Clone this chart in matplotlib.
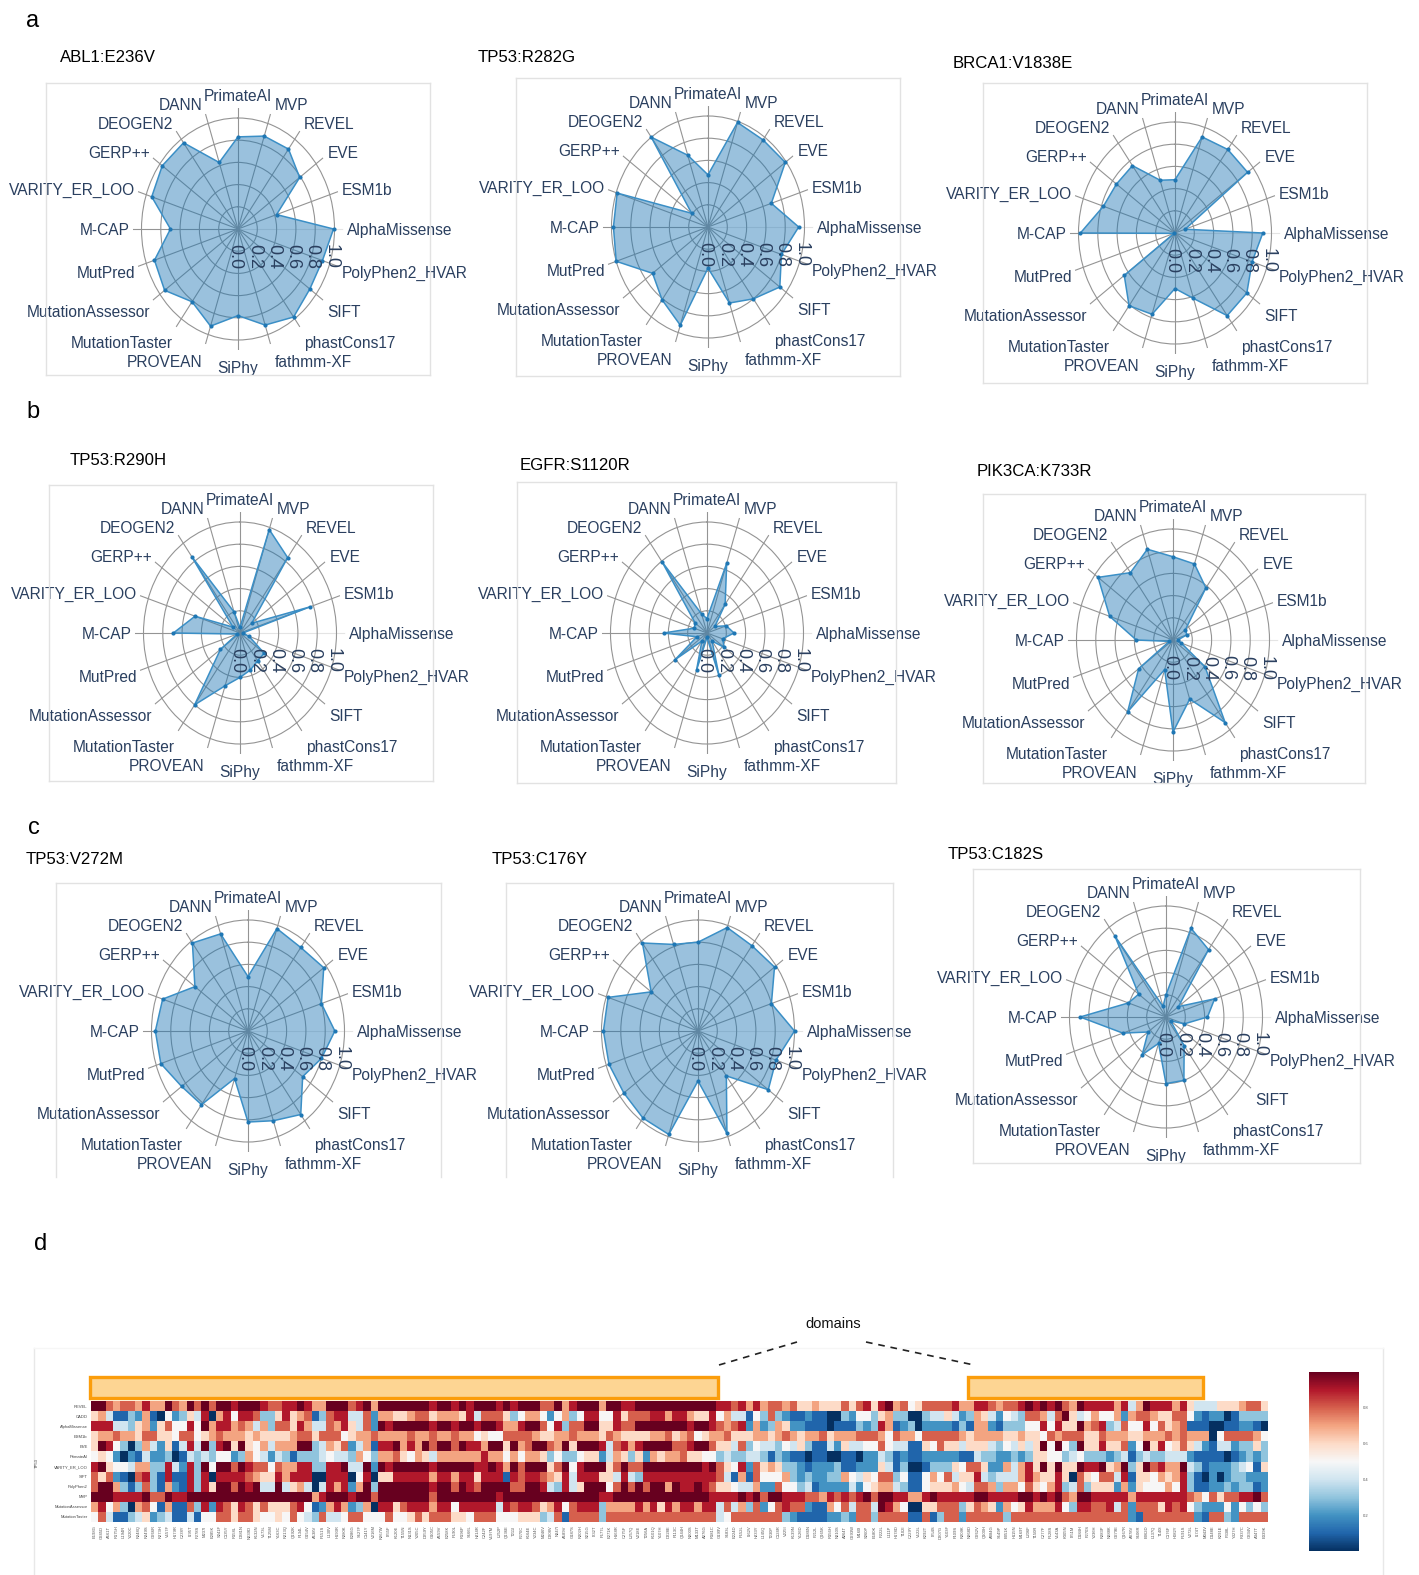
import numpy as np
import matplotlib
matplotlib.use("Agg")
import matplotlib.pyplot as plt
from matplotlib.lines import Line2D
from matplotlib.patches import Rectangle

W, H = 1419, 1575
FONT = "Liberation Sans"
INK = "#2a3f5f"
plt.rcParams["font.family"] = FONT

# ---- radar data (clockwise from the top) ----
tools = ["PrimateAI", "MVP", "REVEL", "EVE", "ESM1b", "AlphaMissense", "PolyPhen2_HVAR",
         "SIFT", "phastCons17", "fathmm-XF", "SiPhy", "PROVEAN", "MutationTaster",
         "MutationAssessor", "MutPred", "M-CAP", "VARITY_ER_LOO", "GERP++", "DEOGEN2", "DANN"]
abl1_e236v = [.83, .88, .89, .79, .42, .99, .92, .92, .98, .91, .78, .92, .81, .94, .91, .70, .94, .97, .96, .63]
tp53_r282g = [.47, .99, .97, .99, .69, .94, .80, .92, .80, .72, .37, .93, .81, .71, 1.0, .98, .99, .21, 1.0, .68]
brca1_v1838e = [.48, .91, .93, .93, .11, .91, .84, .92, .92, .62, .50, .77, .81, .65, .01, .98, .78, .75, .75, .50]
tp53_r290h = [.05, .98, .84, .15, .76, .03, .10, .31, .31, .35, .40, .50, .80, .25, .03, .69, .49, .09, .85, .20]
egfr_s1120r = [.13, .66, .32, .10, .21, .28, .17, .22, .09, .40, .04, .35, .09, .41, .11, .45, .14, .15, .79, .18]
pik3ca_k733r = [.75, .72, .58, .16, .15, .05, .09, .41, .92, .56, .83, .28, .80, .44, .04, .38, .69, .96, .75, .86]
tp53_v272m = [.49, .97, .93, .97, .80, .90, .80, .70, .93, .85, .82, .45, .82, .85, .95, .96, .93, .68, .98, .92]
tp53_c176y = [.80, .98, .95, .98, .80, 1.0, .85, .90, .50, .97, .45, .98, .97, .95, .97, .98, .98, .60, .98, .82]
tp53_c182s = [.20, .84, .75, .16, .53, .43, .20, .06, .32, .60, .60, .25, .42, .23, .47, .89, .41, .35, .90, .10]
radial_ticks = [0.0, 0.2, 0.4, 0.6, 0.8, 1.0]

# name, values, centre x/y, frame l/t/r/b, title x/y, bottom side drawn
panels = [
    ("ABL1:E236V", abl1_e236v, 238, 229, 46, 83, 430, 375, 60, 57, True),
    ("TP53:R282G", tp53_r282g, 708, 227, 516, 78, 900, 376, 478, 57, True),
    ("BRCA1:V1838E", brca1_v1838e, 1175, 233, 983, 83, 1367, 383, 953, 63, True),
    ("TP53:R290H", tp53_r290h, 240, 633, 49, 485, 433, 781, 70, 460, True),
    ("EGFR:S1120R", egfr_s1120r, 707, 633, 517, 482, 896, 783, 520, 465, True),
    ("PIK3CA:K733R", pik3ca_k733r, 1173, 640, 983, 494, 1365, 783, 977, 471, True),
    ("TP53:V272M", tp53_v272m, 248, 1031, 56, 883, 441, 1177, 26, 860, False),
    ("TP53:C176Y", tp53_c176y, 698, 1031, 506, 883, 893, 1177, 492, 860, False),
    ("TP53:C182S", tp53_c182s, 1166, 1017, 973, 869, 1360, 1163, 948, 855, True),
]
panel_letters = [("a", 33, 21), ("b", 33, 412), ("c", 34, 828), ("d", 41, 1244)]

# ---- heatmap data: one character per cell, 0-9,a = 0.0-1.0 on the colour bar ----
heat_REVEL = ("aa87887977a87a8a8aa9aaa98899a977aaa89a7a" "aaaaaa9aa9a9aaa9a9aaa88a79aaa7aa99aaaaaa"
              "aaaaa99897978878667666868969a78568888977" "9987889a9a9a87a99997947a9997964446667886")
heat_CADD = ("6741132710523649079599833696781389944827" "7667886777694888635775257359955968889979"
             "9766957441538321121100325536733003446423" "764254388748a64575572788766885" "2122013333")
heat_AlphaMissense = ("9994436726" "85595a7997" "8747388697" "448796482a" "9aaaaa9aa9aa9aa9779aa859388aa66988aaaaaa"
                      "a9aa987892" "7237622111" "0111323971" "2302222131"
                      "7721333559" "5966a78934" "8559586781" "1100112210")
heat_ESM1b = ("6778776886" "6588567877" "7676666788" "6888567787" "7778778778" "7756558888" "7667787776" "8766667786"
              "7856778666" "7767876778" "6777888758" "7758888876" "7777667665" "8788866877" "7667778787" "7705888875")
heat_EVE = ("6a95303742" "61494a39a6" "a6574777aa" "3476824719" "9a797a8aa8" "a997aa6a78" "aa87a6aaa9" "48979aaaa8"
            "89aa866483" "5443546311" "4264455854" "4116586646" "664354646a" "5a53a66966" "825a695686" "4214423363")
heat_PrimateAI = ("5652021422" "3014343552" "3754243133" "3454437537" "7865764777" "7779775757" "7635335662" "4763627677"
                  "8665534334" "4313211011" "0011022431" "2112222211" "4332232366" "5534533323" "4134334442" "1111012323")
heat_VARITY = ("9a65547733" "94293a5aa8" "a988587799" "3399a44a2a" "9aaaaa9aaa" "aa99a97a8a" "aa68a59aaa" "68a88aaaaa"
               "aaa9a86592" "8676332122" "2311222641" "3001333658" "862274796a" "6a66a99a67" "a36a8977a4" "3122234516")
heat_SIFT = ("8682108931" "9119390999" "9876697999" "0099905906" "6999997997" "9969991989" "9876949996" "6494399999"
             "9999984171" "8555732322" "3375465883" "5115758466" "9434447976" "6960865884" "9166576793" "1020233222")
heat_PolyPhen2 = ("8aa7313831" "7219396aa8" "a9a44a4674" "0497927a3a" "aaaaaa9aa8" "a98aaaa88a" "a943946aaa" "58a8a8aa7a"
                  "99a9866544" "7228553412" "2224256774" "3115666754" "8873775865" "7934836662" "7265557593" "1122323312")
heat_MVP = ("aaa9999a88" "a99aaaaaaa" "aaaaaaaaaa" "79aaa9aa8a" "aaaaaa8aaa" "aaaaa9aaaa" "aaaaaaaaa9" "9aaaaaaaaa"
            "aaaa9999a9" "a8aa999887" "98989a8aa9" "9779a99999" "aa9999aa9a" "9a87aa9999" "9799999998" "75868899a8")
heat_MutationAssessor = ("7957307851" "7118392986" "9868666895" "1279723709" "9689997995" "9999949899" "8679589993" "7777979697"
                         "9979948473" "8258988211" "7584884a97" "5006688836" "8762756977" "7953998894" "8288869895" "3222525353")
heat_MutationTaster = ("5841134623" "4114155886" "8865565854" "3844588555" "8556868886" "6588855566" "6348188883" "8888888888"
                       "8888845888" "8888321111" "2232883888" "8118138828" "8888388888" "8888888888" "8218888888" "2188328888")
heat_row_labels = ["REVEL", "CADD", "AlphaMissense", "ESM1b", "EVE", "PrimateAI", "VARITY_ER_LOO",
                   "SIFT", "PolyPhen2", "MVP", "MutationAssessor", "MutationTaster"]
heat_rows = [heat_REVEL, heat_CADD, heat_AlphaMissense, heat_ESM1b, heat_EVE, heat_PrimateAI, heat_VARITY,
             heat_SIFT, heat_PolyPhen2, heat_MVP, heat_MutationAssessor, heat_MutationTaster]
# variant labels are illegible in the reference: these are look-alike placeholders
heat_col_labels = """E198G G245D A161T R175H L194R Y220C R248Q R249S G266R R273H V157F H179R C238Y I195T P278S M237I
E285K S241F C135Y R158L D281N N239D K132N V173L T125M Y163C R213Q Q192K F134L G154V A138V P151S
L130V H193R R280K E286G S127F C141Y V216M R267W I255F K120E T155N N131S Y205C D259Y G105C A159V
E258K P190L R196P S166L H214R C242F V197M L252P Q136E T211I F270C K164E Y234C M246V D208V N247I
A189V G187S R202H S215G I232T P177L E271K H168R C275F L257Q V218E T256A K101Q Y107H D228E F113C
Q144H N200S M133T A276G R181C G199V S183L E224D P152L I162V H233Y L145Q T230P C124R V225I K139N
Y126D D186N F212L Q165K R156H N210S A264T G293W M160I S260P E180K P222L L111P H178D T102I C229Y
V122L K292T I254S D207G Y103F F109S R209K N268D G262V Q100H A084G S149P E051K H115N M169T L206F
T150R C277F P128S V143A K305N I251M D184H F270S Y236H R283P N288K G279E Q167R A078V S106R E062D
L137Q T140I C176F H082Y P191S V272L I174T M043V D148E K291E F338L Y327H R337C G334V A347T E339K""".split()
heat_ticks = [0.2, 0.4, 0.6, 0.8]

fig = plt.figure(figsize=(W / 100, H / 100), dpi=100, facecolor="white")


def fx(x):
    return x / W


def fy(y):
    return 1 - y / H


def seg(x0, y0, x1, y1, **kw):
    fig.add_artist(Line2D([fx(x0), fx(x1)], [fy(y0), fy(y1)], transform=fig.transFigure, **kw))


RX, RY, REACH = 96.5, 111.0, 1.09
angles = np.deg2rad(np.arange(len(tools)) * 18.0)

for name, vals, cx, cy, l, t, r, b, tx, ty, has_bottom in panels:
    frame = dict(color="#e2e2e2", lw=1.0)
    seg(l, t, r, t, **frame)
    seg(l, t, l, b, **frame)
    seg(r, t, r, b, **frame)
    if has_bottom:
        seg(l, b, r, b, **frame)
    fig.text(fx(tx), fy(ty), name, fontsize=12.1, color="black", va="center", ha="left")

    ax = fig.add_axes([fx(cx - RX * REACH), fy(cy + RY * REACH), 2 * RX * REACH / W, 2 * RY * REACH / H],
                      projection="polar")
    ax.set_aspect("auto")
    ax.set_theta_zero_location("N")
    ax.set_theta_direction(-1)
    ax.set_ylim(0, REACH)
    ax.patch.set_alpha(0)
    ax.spines["polar"].set_visible(False)
    ax.set_axisbelow(True)
    ax.set_xticks(angles)
    ax.set_xticklabels([])
    ax.set_yticks(radial_ticks[1:])
    ax.set_yticklabels([])
    ax.grid(True, color="#949494", lw=0.8)
    ax.tick_params(length=0)
    ax.xaxis.get_gridlines()[tools.index("AlphaMissense")].set_color("#e4e4e4")

    th = np.r_[angles, angles[0]]
    rr = np.r_[vals, vals[0]]
    ax.fill(th, rr, facecolor="#1f77b4", alpha=0.45, lw=0)
    ax.plot(th, rr, color="#3b8fc6", lw=1.1)
    ax.plot(angles, vals, "o", color="#1f77b4", ms=3.0, mew=0)

    for a, lab in zip(angles, tools):
        s, c = np.sin(a), np.cos(a)
        if abs(s) < 1e-6:
            ha, dx, dy = "center", 0, (12 if c > 0 else -18.5)
        else:
            ha = "left" if s > 0 else "right"
            dx = 4.2 if s > 0 else -3.0
            dy = (11 * c if c > 0 else 18 * c) - 1.8
        ax.annotate(lab, xy=(a, REACH), xytext=(dx, dy), textcoords="offset pixels", ha=ha, va="center",
                    fontsize=11.2, color=INK, annotation_clip=False)
    for v in radial_ticks:
        ax.annotate(f"{v:.1f}", xy=(np.pi / 2, v), xytext=(-3, -28), textcoords="offset pixels", ha="center",
                    va="center", rotation=270, fontsize=13, color=INK, annotation_clip=False)

for lab, x, y in panel_letters:
    fig.text(fx(x), fy(y), lab, fontsize=17, color="black", ha="center", va="center")

# ---- panel d ----
seg(34, 1348, 34, H, color="#e8e8e8", lw=1)
seg(1383, 1348, 1383, H, color="#e8e8e8", lw=1)
seg(34, 1348, 1383, 1348, color="#f6f6f6", lw=1)

matrix = np.array([[int(ch, 16) / 10 for ch in row] for row in heat_rows])
x0, x1, y0, y1 = 91, 1268, 1401, 1522
hax = fig.add_axes([fx(x0), fy(y1), (x1 - x0) / W, (y1 - y0) / H])
mesh = hax.pcolormesh(matrix, cmap="RdBu_r", vmin=0, vmax=1, rasterized=True)
hax.invert_yaxis()
for s in hax.spines.values():
    s.set_visible(False)
hax.set_xticks(np.arange(matrix.shape[1]) + 0.5)
hax.set_xticklabels(heat_col_labels, rotation=90, fontsize=3.0, color="#555555")
hax.set_yticks(np.arange(matrix.shape[0]) + 0.5)
hax.set_yticklabels(heat_row_labels, fontsize=3.0, color="#444444")
hax.tick_params(length=0, pad=2.5)
fig.text(fx(37), fy(1463), "TP53", fontsize=3.0, color="#444444", rotation=90, ha="center", va="center")

cax = fig.add_axes([fx(1309), fy(1551), 50 / W, 179 / H])
cb = fig.colorbar(mesh, cax=cax, ticks=heat_ticks, format="%.1f")
cb.outline.set_visible(False)
cb.ax.tick_params(length=0, labelsize=3.0, labelcolor="#555555", pad=3)

for xa, xb in [(90, 718), (968, 1203)]:
    fig.add_artist(Rectangle((fx(xa), fy(1398)), (xb - xa) / W, 21 / H, transform=fig.transFigure,
                             facecolor="#fdd593", edgecolor="#fb9d0b", lw=2.4))
seg(719, 1365, 797, 1342, color="#222222", lw=1.2, ls=(0, (4, 3.5)))
seg(866, 1342, 974, 1365, color="#222222", lw=1.2, ls=(0, (4, 3.5)))
fig.text(fx(833), fy(1324), "domains", fontsize=10.5, color="#111111", ha="center", va="center")

fig.savefig("out.png", dpi=100, facecolor="white")
